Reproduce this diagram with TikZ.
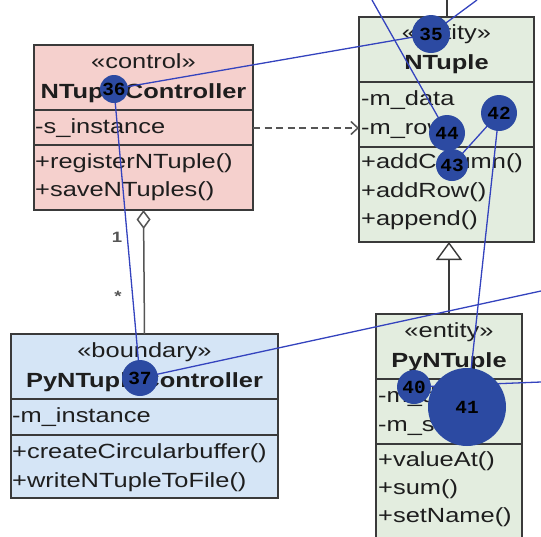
\documentclass[tikz,border=0pt]{standalone}
\usepackage{fontspec}
\setmainfont{Liberation Sans}[FakeStretch=1.24]
\newfontfamily\idfont{Liberation Mono}[FakeStretch=1.05]
\usetikzlibrary{arrows.meta}

\definecolor{ctrlfill}{HTML}{F5D0CD}
\definecolor{entfill}{HTML}{E3EDDF}
\definecolor{bndfill}{HTML}{D5E5F6}
\definecolor{edgecol}{HTML}{3A3A3A}
\definecolor{txtcol}{HTML}{1E1E1E}
\definecolor{relgray}{HTML}{555555}
\definecolor{ovline}{HTML}{3443BE}
\definecolor{ovfill}{HTML}{2C4AA2}

\newcommand{\umlfont}{\fontsize{20.5}{24}\selectfont}

\tikzset{
  umlbox/.style={draw=edgecol, line width=1.4pt, anchor=north west,
    inner sep=0pt, outer sep=0pt},
  sepline/.style={draw=edgecol, line width=1.4pt},
  rowtxt/.style={anchor=base west, inner sep=0pt, text=txtcol, font=\umlfont},
  headtxt/.style={anchor=base, inner sep=0pt, text=txtcol, font=\umlfont},
  nametxt/.style={headtxt, font=\umlfont\bfseries},
  multtxt/.style={inner sep=0pt, text=relgray, font=\fontsize{15}{15}\selectfont\bfseries},
  aggr/.style={draw=relgray, line width=1.5pt,
    {Diamond[fill=white, length=19pt, width=14pt]}-},
  gen/.style={draw=edgecol, line width=1.4pt,
    -{Triangle[fill=white, length=18pt, width=26pt]}},
  dep/.style={draw=relgray, line width=1.5pt, dash pattern=on 7pt off 4.5pt,
    -{Straight Barb[length=7pt, width=13pt]}},
  assoc/.style={draw=edgecol, line width=1.4pt},
  ovedge/.style={draw=ovline, line width=1.3pt},
  ovnode/.style={circle, fill=ovfill, inner sep=0pt, text=black,
    font=\idfont\bfseries\fontsize{18.5}{18.5}\selectfont},
}

\begin{document}
\begin{tikzpicture}[x=1pt, y=-1pt]
\useasboundingbox (0,0) rectangle (541,536);
\clip (0,0) rectangle (541,536);

% ---- NTupleController (control) ----
\node[umlbox, fill=ctrlfill, minimum width=219pt, minimum height=165pt] (ntc) at (34,45) {};
\draw[sepline] (ntc.west |- 0,110) -- (ntc.east |- 0,110);
\draw[sepline] (ntc.west |- 0,145) -- (ntc.east |- 0,145);
\node[headtxt] (ntc-st) at (143.5,68) {«control»};
\node[nametxt] (ntc-nm) at (143.5,98) {NTupleController};
\node[rowtxt] (ntc-a1) at (35,133) {-s\_instance};
\node[rowtxt] (ntc-m1) at (35,168) {+registerNTuple()};
\node[rowtxt] (ntc-m2) at (35,196.5) {+saveNTuples()};

% ---- NTuple (entity) ----
\node[umlbox, fill=entfill, minimum width=175pt, minimum height=225pt] (nt) at (359,17) {};
\draw[sepline] (nt.west |- 0,82) -- (nt.east |- 0,82);
\draw[sepline] (nt.west |- 0,147) -- (nt.east |- 0,147);
\node[headtxt] (nt-st) at (446.5,39) {«entity»};
\node[nametxt] (nt-nm) at (446.5,69) {NTuple};
\node[rowtxt] (nt-a1) at (361,105) {-m\_data};
\node[rowtxt] (nt-a2) at (361,134.5) {-m\_rows};
\node[rowtxt] (nt-m1) at (361,168.5) {+addColumn()};
\node[rowtxt] (nt-m2) at (361,197) {+addRow()};
\node[rowtxt] (nt-m3) at (361,225.5) {+append()};

% ---- PyNTupleController (boundary) ----
\node[umlbox, fill=bndfill, minimum width=267pt, minimum height=164pt] (pntc) at (11,334) {};
\draw[sepline] (pntc.west |- 0,399) -- (pntc.east |- 0,399);
\draw[sepline] (pntc.west |- 0,435) -- (pntc.east |- 0,435);
\node[headtxt] (pntc-st) at (144.5,357) {«boundary»};
\node[nametxt] (pntc-nm) at (144.5,387.5) {PyNTupleController};
\node[rowtxt] (pntc-a1) at (12,422.5) {-m\_instance};
\node[rowtxt] (pntc-m1) at (12,458) {+createCircularbuffer()};
\node[rowtxt] (pntc-m2) at (12,487) {+writeNTupleToFile()};

% ---- PyNTuple (entity) ----
\node[umlbox, fill=entfill, minimum width=146pt, minimum height=246pt] (pnt) at (376,314) {};
\draw[sepline] (pnt.west |- 0,379) -- (pnt.east |- 0,379);
\draw[sepline] (pnt.west |- 0,444) -- (pnt.east |- 0,444);
\node[headtxt] (pnt-st) at (449,337) {«entity»};
\node[nametxt] (pnt-nm) at (449,367.5) {PyNTuple};
\node[rowtxt] (pnt-a1) at (378,402) {-m\_data};
\node[rowtxt] (pnt-a2) at (378,431) {-m\_size};
\node[rowtxt] (pnt-m1) at (378,466) {+valueAt()};
\node[rowtxt] (pnt-m2) at (378,494) {+sum()};
\node[rowtxt] (pnt-m3) at (378,522.5) {+setName()};

% ---- UML relations ----
\draw[aggr] (ntc.south) -- (pntc.north);
\node[multtxt] (m-one) at (117,237) {1};
\node[multtxt] (m-many) at (118,296) {*};
\draw[gen] (pnt.north) -- (pnt.north |- nt.south);
\draw[dep] (ntc.east |- 0,128) -- (nt.west |- 0,128);
\coordinate (nt-up) at (447,0);
\draw[assoc] (nt.north -| nt-up) -- (nt-up);

% ---- numbered overlay graph ----
\coordinate (p35) at (431,34);
\coordinate (p36) at (114,89);
\coordinate (p37) at (140,378);
\coordinate (p40) at (414,387);
\coordinate (p41) at (467,407);
\coordinate (p42) at (499,113);
\coordinate (p43) at (452,165);
\coordinate (p44) at (447,133);
\coordinate (x35) at (477,0);
\coordinate (x44) at (372,0);
\coordinate (x37) at (541,291);
\coordinate (x40) at (541,382);

\draw[ovedge] (p35) -- (p36);
\draw[ovedge] (p35) -- (x35);
\draw[ovedge] (x44) -- (p44);
\draw[ovedge] (p36) -- (p37);
\draw[ovedge] (p37) -- (x37);
\draw[ovedge] (p42) -- (p43);
\draw[ovedge] (p42) -- (p41);
\draw[ovedge] (p40) -- (x40);

\node[ovnode, minimum size=38pt] (c35) at (p35) {35};
\node[ovnode, minimum size=28pt] (c36) at (p36) {36};
\node[ovnode, minimum size=36pt] (c37) at (p37) {37};
\node[ovnode, minimum size=34pt] (c40) at (p40) {40};
\node[ovnode, minimum size=78pt] (c41) at (p41) {41};
\node[ovnode, minimum size=36pt] (c42) at (p42) {42};
\node[ovnode, minimum size=32pt] (c43) at (p43) {43};
\node[ovnode, minimum size=36pt] (c44) at (p44) {44};
\end{tikzpicture}
\end{document}
